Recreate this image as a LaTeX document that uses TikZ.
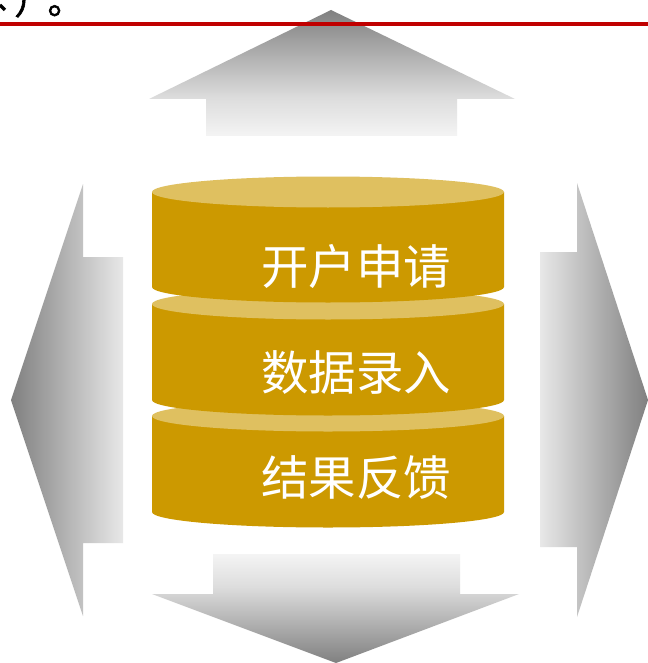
\documentclass[tikz,border=0pt]{standalone}
\usepackage{fontspec}
\newfontfamily\cjk{Noto Sans CJK SC}
\newfontfamily\cjkbold[FakeBold=1.6]{Noto Sans CJK SC}
\definecolor{gold}{HTML}{CC9900}
\definecolor{goldlight}{HTML}{DFC060}
\definecolor{rulered}{HTML}{C00000}
\definecolor{arrowdark}{HTML}{808080}
\definecolor{arrowmid}{HTML}{DDDDDD}
\definecolor{arrowlight}{HTML}{F4F4F4}
\definecolor{arrowside}{HTML}{E8E8E8}
\pgfdeclareverticalshading{gradup}{100bp}{color(0bp)=(arrowlight);color(25bp)=(arrowlight);color(40bp)=(arrowmid);color(75bp)=(arrowdark);color(100bp)=(arrowdark)}
\pgfdeclareverticalshading{graddown}{100bp}{color(0bp)=(arrowdark);color(25bp)=(arrowdark);color(60bp)=(arrowmid);color(75bp)=(arrowlight);color(100bp)=(arrowlight)}
\pgfdeclarehorizontalshading{gradleft}{100bp}{color(0bp)=(arrowdark);color(25bp)=(arrowdark);color(75bp)=(arrowside);color(100bp)=(arrowside)}
\pgfdeclarehorizontalshading{gradright}{100bp}{color(0bp)=(arrowside);color(25bp)=(arrowside);color(75bp)=(arrowdark);color(100bp)=(arrowdark)}
\tikzset{
  x=0.75pt,y=-0.75pt,
  cylbody/.style={fill=gold,draw=none},
  cyltop/.style={fill=goldlight,draw=none},
  cyltext/.style={text=white,font=\cjk\fontsize{35.6}{38}\selectfont,inner sep=0pt,anchor=center},
  upshade/.style={shading=gradup,draw=none},
  downshade/.style={shading=graddown,draw=none},
  leftshade/.style={shading=gradleft,draw=none},
  rightshade/.style={shading=gradright,draw=none},
}
\begin{document}
\begin{tikzpicture}
\useasboundingbox (0,0) rectangle (648,663);
\fill[white] (0,0) rectangle (648,663);
% arrows
\path[upshade] (331,10) -- (515,99) -- (457,99) -- (457,136) -- (206,136) -- (206,99) -- (149,99) -- cycle;
\path[downshade] (213,554) -- (460,554) -- (460,594) -- (519,594) -- (336,663) -- (152,594) -- (213,594) -- cycle;
\path[leftshade] (11,400) -- (83,184) -- (83,257) -- (123,257) -- (123,543) -- (83,543) -- (83,616) -- cycle;
\path[rightshade] (540,252) -- (577,252) -- (577,183) -- (648,400) -- (577,617) -- (577,547) -- (540,547) -- cycle;
% rule
\draw[rulered,line width=3pt] (0,24) -- (648,24);
\begin{scope}
\clip (0,0) rectangle (648,663);
\node[anchor=base west,inner sep=0pt,font=\cjkbold\fontsize{27}{29}\selectfont,text=black] (clip) at (14,14) {）\kern-2pt 。};
\draw[black,line width=2.4pt] (0,5) -- (5,10);
\end{scope}
% cylinders, bottom first
\path[cylbody] (152,416) -- (152,512) arc[start angle=180,end angle=0,x radius=176,y radius=15.5] -- (504,416) -- cycle;
\path[cyltop] (328,416) ellipse[x radius=176,y radius=15.5];
\path[cylbody] (152,304) -- (152,400) arc[start angle=180,end angle=0,x radius=176,y radius=15.5] -- (504,304) -- cycle;
\path[cyltop] (328,304) ellipse[x radius=176,y radius=15.5];
\path[cylbody] (152,192) -- (152,287) arc[start angle=180,end angle=0,x radius=176,y radius=15.5] -- (504,192) -- cycle;
\path[cyltop] (328,192) ellipse[x radius=176,y radius=15.5];
\node[cyltext] (t1) at (356,266) {开户申请};
\node[cyltext] (t2) at (356,373) {数据录入};
\node[cyltext] (t3) at (356,478) {结果反馈};
\end{tikzpicture}
\end{document}
